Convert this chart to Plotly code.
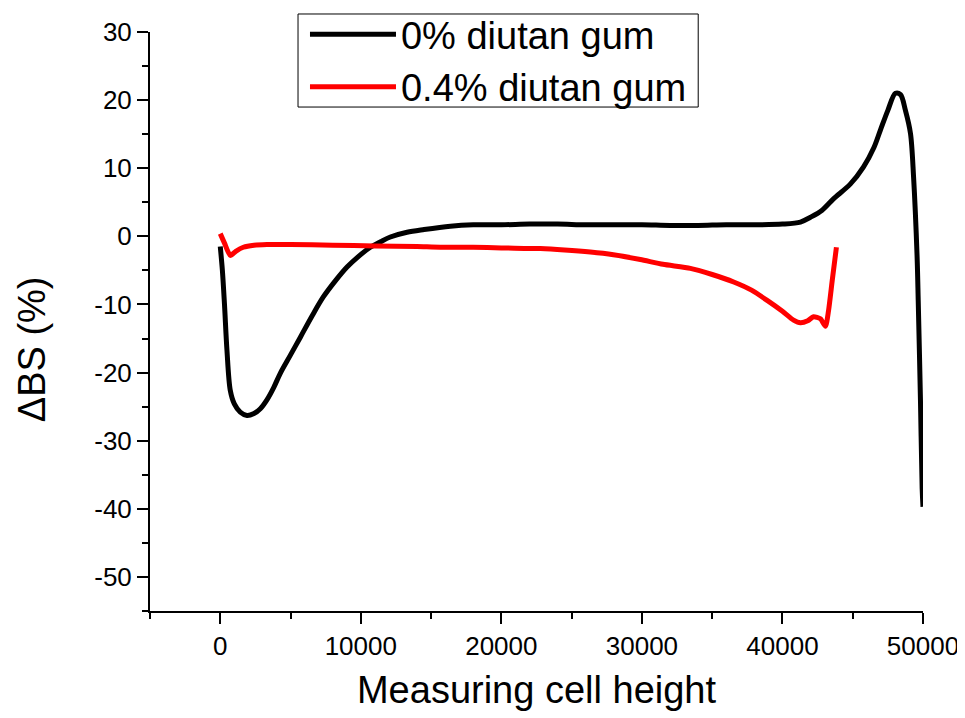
import plotly.graph_objects as go

# ---- data ----
x_0pct = [0, 150, 300, 475, 710, 1000, 1420, 1900, 2400, 2850, 3320, 3800, 4270, 5000, 5700,
          6500, 7330, 8200, 9020, 9800, 10680, 11400, 12100, 13290, 14500, 16370, 18000,
          20000, 22000, 24000, 26000, 28000, 30000, 32000, 34000, 36000, 38000, 40000,
          41280, 41990, 42800, 43630, 44840, 45770, 46500, 46970, 47500, 48040, 48400,
          48750, 49110, 49330, 49580, 49660, 49820, 49940, 50000]
y_0pct = [-1.5, -5.0, -10.0, -16.7, -22.6, -24.6, -25.8, -26.3, -26.0, -25.3, -24.0, -22.2,
          -20.1, -17.4, -14.8, -11.8, -8.9, -6.5, -4.5, -3.0, -1.6, -0.8, -0.1, 0.6, 1.0,
          1.5, 1.7, 1.7, 1.8, 1.8, 1.7, 1.7, 1.7, 1.6, 1.6, 1.7, 1.7, 1.8, 2.1, 2.8, 3.8,
          5.5, 7.7, 10.2, 13.0, 15.6, 18.5, 21.0, 20.8, 18.5, 15.1, 8.7, -3.0, -9.4, -24.1,
          -37.0, -39.7]

x_04pct = [0, 300, 710, 1100, 1640, 2400, 3320, 5000, 8000, 11000, 14000, 15660, 18000,
           20000, 22780, 24500, 26330, 27970, 29890, 31500, 33450, 35000, 36530, 37800,
           38910, 40000, 40790, 41280, 41800, 42210, 42700, 43060, 43280, 43540, 43840]
y_04pct = [0.4, -1.0, -2.8, -2.2, -1.6, -1.3, -1.2, -1.2, -1.3, -1.4, -1.5, -1.6, -1.6,
           -1.7, -1.8, -2.0, -2.3, -2.7, -3.4, -4.1, -4.7, -5.6, -6.7, -7.9, -9.4, -11.0,
           -12.3, -12.7, -12.4, -11.8, -12.1, -13.2, -10.9, -6.5, -1.6]

series_names = ["0% diutan gum", "0.4% diutan gum"]
x_ticks = [0, 10000, 20000, 30000, 40000, 50000]
y_ticks = [30, 20, 10, 0, -10, -20, -30, -40, -50]

FONT = "Liberation Sans, Arial, sans-serif"

fig = go.Figure()
fig.add_trace(go.Scatter(x=x_0pct, y=y_0pct, mode="lines", name=series_names[0],
                         line=dict(color="black", width=5, shape="spline", smoothing=0.9)))
fig.add_trace(go.Scatter(x=x_04pct, y=y_04pct, mode="lines", name=series_names[1],
                         line=dict(color="#ff0000", width=5, shape="spline", smoothing=0.6)))

axis_common = dict(showline=True, linecolor="black", linewidth=2, ticks="outside",
                   ticklen=11, tickwidth=2, tickcolor="black", showgrid=False,
                   zeroline=False, automargin=False,
                   tickfont=dict(family=FONT, size=26, color="black"))

fig.update_xaxes(range=[-5000, 50000], tickvals=x_ticks,
                 ticktext=[str(v) for v in x_ticks],
                 minor=dict(dtick=5000, tick0=0, ticks="outside", ticklen=6, tickwidth=2,
                            tickcolor="black"),
                 title=dict(text="Measuring cell height", font=dict(family=FONT, size=38,
                                                                    color="black"),
                            standoff=16),
                 **axis_common)
fig.update_yaxes(range=[-55, 30], tickvals=y_ticks, ticktext=[str(v) for v in y_ticks],
                 minor=dict(dtick=5, tick0=0, ticks="outside", ticklen=6, tickwidth=2,
                            tickcolor="black"),
                 **axis_common)

fig.add_annotation(text="ΔBS (%)", xref="paper", yref="paper", x=-0.1527, y=0.452,
                   xanchor="center", yanchor="middle", textangle=-90, showarrow=False,
                   font=dict(family=FONT, size=38, color="black"))

# legend frame
fig.add_shape(type="rect", xref="paper", yref="paper", x0=0.1915, x1=0.7092,
              y0=0.8704, y1=1.0311, line=dict(color="black", width=1),
              fillcolor="rgba(0,0,0,0)", layer="above")

fig.update_layout(
    width=957, height=710,
    margin=dict(l=142, r=42, t=24, b=107, autoexpand=False),
    paper_bgcolor="white", plot_bgcolor="white",
    showlegend=True,
    legend=dict(x=0.2005, y=1.050, xanchor="left", yanchor="top",
                borderwidth=0, bgcolor="rgba(0,0,0,0)",
                font=dict(family=FONT, size=38, color="black"),
                itemwidth=86, tracegroupgap=0),
)

fig.write_html("out.html")
